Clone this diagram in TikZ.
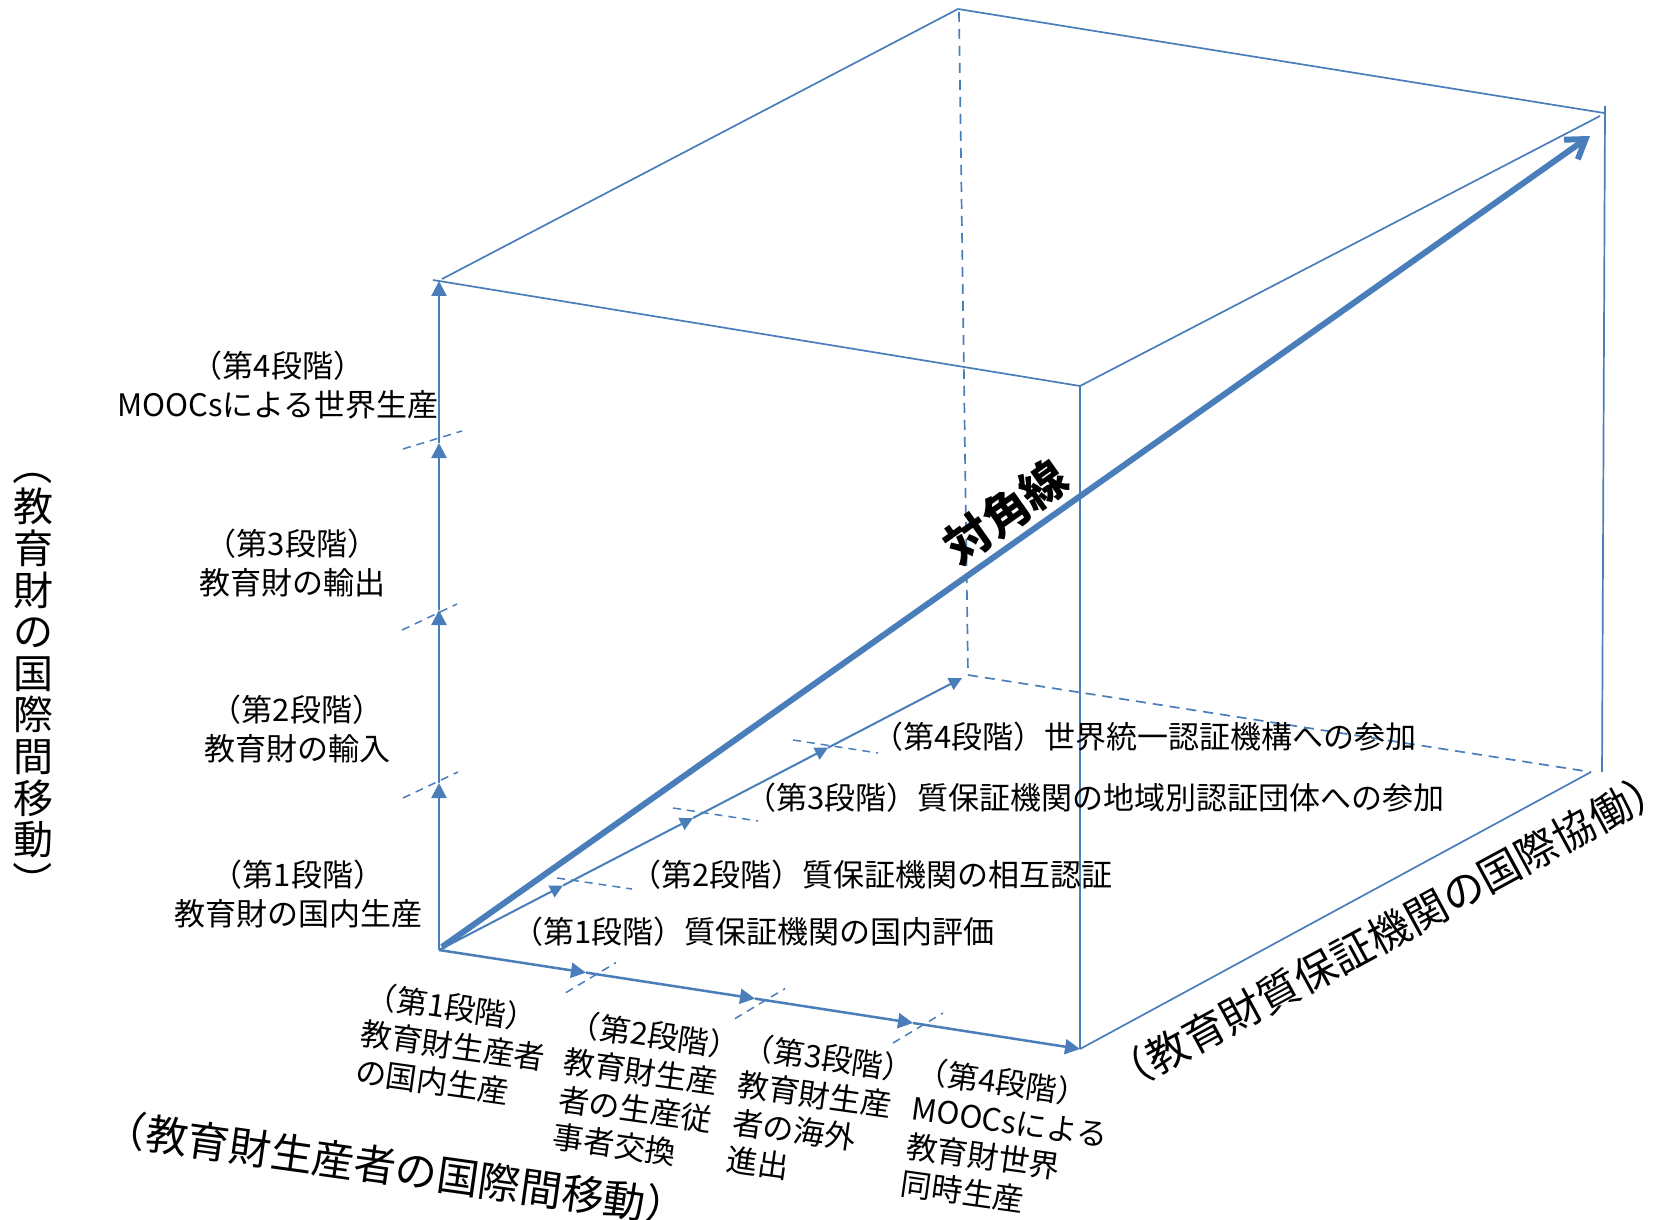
\documentclass[tikz,border=0pt]{standalone}
\usepackage{fontspec}
\setmainfont{Noto Sans CJK JP}
\usetikzlibrary{arrows.meta}
\definecolor{ln}{HTML}{4A7EBB}
\newcommand{\vparL}{\rotatebox[origin=c]{-90}{（}}
\newcommand{\vparR}{\rotatebox[origin=c]{-90}{）}}
\begin{document}
\begin{tikzpicture}[x=0.5pt,y=-0.5pt,
  edge/.style={draw=ln, line width=0.85pt},
  dashedge/.style={draw=ln, line width=0.85pt, dash pattern=on 5pt off 3.5pt},
  tickline/.style={draw=ln, line width=0.75pt, dash pattern=on 4pt off 3pt},
  axisv/.style={draw=ln, line width=1.25pt, -{Triangle[length=7.5pt,width=7.5pt]}},
  axisx/.style={draw=ln, line width=1.25pt, -{Triangle[length=7.5pt,width=7.5pt]}},
  axisd/.style={draw=ln, line width=1pt, -{Triangle[length=6.5pt,width=6.5pt]}},
  diag/.style={draw=ln, line width=3pt, -{Straight Barb[length=9pt,width=12pt]}},
  lbl/.style={font=\fontsize{15.5}{19.5}\selectfont, inner sep=0pt},
  blk/.style={font=\fontsize{15.5}{19}\selectfont, inner sep=0pt, align=left, anchor=north west, rotate=-8},
  big/.style={font=\fontsize{21}{21}\selectfont, inner sep=0pt},
]
\fill[white] (0,0) rectangle (1657,1219);
\useasboundingbox (0,0) rectangle (1657,1219);

% cube corners
\coordinate (O) at (439,950);
\coordinate (TFL) at (439,281);
\coordinate (TFLx) at (433,280);
\coordinate (TFLy) at (442,279);
\coordinate (TBL) at (958,9);
\coordinate (TBLd) at (959,12);
\coordinate (TBR) at (1604,113);
\coordinate (TBRi) at (1600,116);
\coordinate (TFR) at (1080,386);
\coordinate (BFR) at (1080,1049);
\coordinate (BBL) at (968,675);
\coordinate (BBR) at (1591,772);
\coordinate (RVt) at (1605,106);
\coordinate (RVb) at (1602,772);

% cube edges
\draw[edge] (TFLx) -- (TFR);
\draw[edge] (TFLy) -- (TBL);
\draw[edge] (TBL) -- (TBR);
\draw[edge] (TFR) -- (TBRi);
\draw[edge] (TFR) -- (BFR);
\draw[edge] (BFR) -- (BBR);
\draw[edge] (RVt) -- (RVb);
\draw[dashedge] (TBLd) -- (BBL);
\draw[dashedge] (BBL) -- (BBR);

% vertical axis
\coordinate (V1) at (439,783);
\coordinate (V2) at (439,610);
\coordinate (V3) at (439,443);
\draw[axisv] (O) -- (V1);
\draw[axisv] (V1) -- (V2);
\draw[axisv] (V2) -- (V3);
\draw[axisv] (V3) -- (TFL);
\coordinate (vt1a) at (403,798); \coordinate (vt1b) at (458,772);
\coordinate (vt2a) at (402,630); \coordinate (vt2b) at (457,604);
\coordinate (vt3a) at (403,449); \coordinate (vt3b) at (462,431);
\draw[tickline] (vt1a) -- (vt1b);
\draw[tickline] (vt2a) -- (vt2b);
\draw[tickline] (vt3a) -- (vt3b);

% front axis
\coordinate (X1) at (586,972.6);
\coordinate (X2) at (755,998.6);
\coordinate (X3) at (913,1023);
\draw[axisx] (O) -- (X1);
\draw[axisx] (X1) -- (X2);
\draw[axisx] (X2) -- (X3);
\draw[axisx] (X3) -- (BFR);
\coordinate (xt1a) at (566,992.6); \coordinate (xt1b) at (616,962.6);
\coordinate (xt2a) at (735,1018.6); \coordinate (xt2b) at (785,988.6);
\coordinate (xt3a) at (893,1043); \coordinate (xt3b) at (943,1013);
\draw[tickline] (xt1a) -- (xt1b);
\draw[tickline] (xt2a) -- (xt2b);
\draw[tickline] (xt3a) -- (xt3b);

% depth axis
\coordinate (D1) at (563,885.5);
\coordinate (D2) at (693,818);
\coordinate (D3) at (828,747.7);
\coordinate (D4) at (962,678);
\draw[axisd] (O) -- (D1);
\draw[axisd] (D1) -- (D2);
\draw[axisd] (D2) -- (D3);
\draw[axisd] (D3) -- (D4);
\coordinate (dt1a) at (557,878); \coordinate (dt1b) at (632,889);
\coordinate (dt2a) at (673,808); \coordinate (dt2b) at (758,821);
\coordinate (dt3a) at (793,740); \coordinate (dt3b) at (878,753);
\draw[tickline] (dt1a) -- (dt1b);
\draw[tickline] (dt2a) -- (dt2b);
\draw[tickline] (dt3a) -- (dt3b);

% diagonal
\coordinate (Ds) at (442,947);
\coordinate (De) at (1590,136);
\draw[diag] (Ds) -- (De);
\node[font=\fontsize{23}{23}\selectfont\bfseries, inner sep=0pt, rotate=35.3] (diaglbl) at (1006,512) {対角線};

% left labels
\node[lbl, align=center] (L4) at (278,385) {（第4段階）\\MOOCsによる世界生産};
\node[lbl, align=center] (L3) at (292,563) {（第3段階）\\教育財の輸出};
\node[lbl, align=center] (L2) at (297,729) {（第2段階）\\教育財の輸入};
\node[lbl, align=center] (L1) at (298,894) {（第1段階）\\教育財の国内生産};

% depth labels
\node[lbl, anchor=west] (S4) at (872,737) {（第4段階）世界統一認証機構への参加};
\node[lbl, anchor=west] (S3) at (745,798) {（第3段階）質保証機関の地域別認証団体への参加};
\node[lbl, anchor=west] (S2) at (630,875) {（第2段階）質保証機関の相互認証};
\node[lbl, anchor=west] (S1) at (512,932) {（第1段階）質保証機関の国内評価};

% bottom blocks
\node[blk] (B1) at (368,980) {（第1段階）\\教育財生産者\\の国内生産};
\node[blk] (B2) at (571,1008) {（第2段階）\\教育財生産\\者の生産従\\事者交換};
\node[blk] (B3) at (745,1031) {（第3段階）\\教育財生産\\者の海外\\進出};
\node[blk] (B4) at (919,1055) {（第4段階）\\MOOCsによる\\教育財世界\\同時生産};

% axis titles
\node[font=\fontsize{20}{20.8}\selectfont, inner sep=0pt, align=center] (vt) at (33,673)
  {{\vparL}\\教\\育\\財\\の\\国\\際\\間\\移\\動\\{\vparR}};
\node[big, rotate=-8] (bt) at (396,1168) {（教育財生産者の国際間移動）};
\node[big, rotate=28.5] (rt) at (1389,931) {（教育財質保証機関の国際協働）};
\end{tikzpicture}
\end{document}
